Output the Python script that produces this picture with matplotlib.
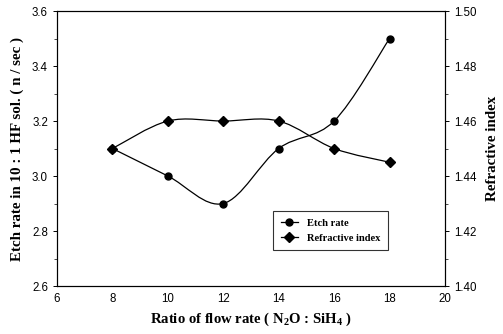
import numpy as np
import matplotlib.pyplot as plt
from matplotlib.path import Path
from matplotlib.patches import PathPatch
from matplotlib.lines import Line2D
from matplotlib.ticker import MultipleLocator

# data
ratio = [8, 10, 12, 14, 16, 18]
etch_rate = [3.1, 3.0, 2.9, 3.1, 3.2, 3.5]
refr_index = [1.45, 1.46, 1.46, 1.46, 1.45, 1.445]

serif = 'Liberation Serif'
sans = 'Liberation Sans'
plt.rcParams['mathtext.fontset'] = 'custom'
plt.rcParams['mathtext.rm'] = 'Liberation Serif:bold'
plt.rcParams['mathtext.it'] = 'Liberation Serif:bold'


def smooth_path(xs, ys):
    # catmull-rom through the points, drawn as cubic bezier segments
    xs = np.asarray(xs, float)
    ys = np.asarray(ys, float)
    pts = np.column_stack([xs, ys])
    verts = [pts[0]]
    codes = [Path.MOVETO]
    n = len(pts)
    for i in range(n - 1):
        p0 = pts[max(i - 1, 0)]
        p1 = pts[i]
        p2 = pts[i + 1]
        p3 = pts[min(i + 2, n - 1)]
        verts += [p1 + (p2 - p0) / 6, p2 - (p3 - p1) / 6, p2]
        codes += [Path.CURVE4] * 3
    return Path(verts, codes)


fig = plt.figure(figsize=(5.03, 3.34), dpi=100)
ax = fig.add_axes([0.1133, 0.1437, 0.7714, 0.8233])
ax2 = ax.twinx()

ax.add_patch(PathPatch(smooth_path(ratio, etch_rate), fill=False, lw=0.9, color='black'))
ax.plot(ratio, etch_rate, 'o', color='black', ms=5)
ax2.add_patch(PathPatch(smooth_path(ratio, refr_index), fill=False, lw=0.9, color='black'))
ax2.plot(ratio, refr_index, 'D', color='black', ms=5)

ax.set_xlim(6, 20)
ax.set_ylim(2.6, 3.6)
ax2.set_ylim(1.40, 1.50)
ax.xaxis.set_major_locator(MultipleLocator(2))
ax.yaxis.set_major_locator(MultipleLocator(0.2))
ax.yaxis.set_minor_locator(MultipleLocator(0.1))
ax2.yaxis.set_major_locator(MultipleLocator(0.02))
ax2.yaxis.set_minor_locator(MultipleLocator(0.01))
ax.yaxis.set_major_formatter(plt.FormatStrFormatter('%.1f'))
ax2.yaxis.set_major_formatter(plt.FormatStrFormatter('%.2f'))

for a in (ax, ax2):
    a.tick_params(labelsize=8.3, width=0.7, length=3)
    a.tick_params(which='minor', width=0.5, length=2)
    for lab in a.get_xticklabels() + a.get_yticklabels():
        lab.set_fontfamily(sans)
    for s in a.spines.values():
        s.set_linewidth(0.8)
ax.tick_params(axis='x', length=0, pad=5)

ax.set_xlabel('Ratio of flow rate ( N$_2$O : SiH$_4$ )', fontfamily=serif,
              fontweight='bold', fontsize=10.6, labelpad=4)
ax.set_ylabel('Etch rate in 10 : 1 HF sol. ( n / sec )', fontfamily=serif,
              fontweight='bold', fontsize=10.8, labelpad=6)
ax2.set_ylabel('Refractive index', fontfamily=serif, fontweight='bold',
               fontsize=10.8, labelpad=7)

handles = [Line2D([], [], color='black', marker='o', ms=5, lw=0.9),
           Line2D([], [], color='black', marker='D', ms=5, lw=0.9)]
leg = ax2.legend(handles, ['Etch rate', 'Refractive index'], loc='lower left',
                 bbox_to_anchor=(0.557, 0.131), borderaxespad=0, frameon=True,
                 fancybox=False, edgecolor='black', handlelength=1.7,
                 borderpad=0.7, prop={'family': serif, 'weight': 'bold', 'size': 7.6})
leg.get_frame().set_linewidth(0.8)

fig.savefig('out.png', dpi=100)
